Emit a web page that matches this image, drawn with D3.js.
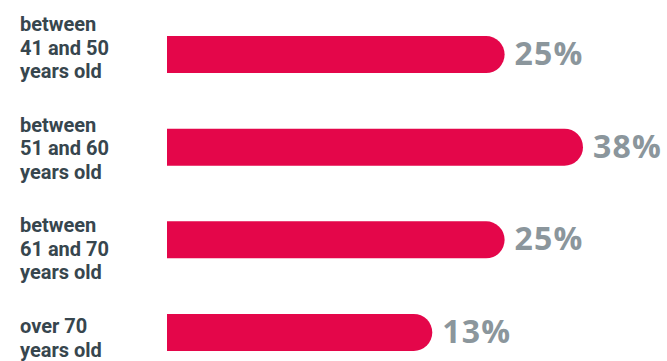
<!DOCTYPE html>
<html>
<head>
<meta charset="utf-8">
<script src="https://cdn.jsdelivr.net/npm/d3@7"></script>
<style>
  body { margin: 0; background: #fff; }
  svg { display: block; }
</style>
</head>
<body>
<svg width="667" height="361"></svg>
<script>
var labels = [
  ["between", "41 and 50", "years old"],
  ["between", "51 and 60", "years old"],
  ["between", "61 and 70", "years old"],
  ["over 70", "years old"]
];
var values = [25, 38, 25, 13];

var svg = d3.select("svg"),
    width = +svg.attr("width"),
    height = +svg.attr("height");

var idx = d3.range(values.length);

// bars start at 167, the scale is offset so short bars stay long-ish like the original
var x = d3.scaleLinear()
    .domain([-31, 38])
    .range([167, 583]);

var y = d3.scaleBand()
    .domain(idx)
    .range([36, 351])
    .paddingInner(0.6)
    .paddingOuter(0);

// labels sit on their own spacing, a bit off the bars
var ly = d3.scalePoint()
    .domain(idx)
    .range([31, 333]);

function barPath(i) {
  var x0 = x.range()[0], x1 = x(values[i]),
      y0 = y(i), h = y.bandwidth(), r = h / 2;
  return "M" + x0 + "," + y0 +
    "H" + (x1 - r) +
    "A" + r + "," + r + " 0 0 1 " + (x1 - r) + "," + (y0 + h) +
    "H" + x0 + "Z";
}

svg.append("g")
  .selectAll("path")
  .data(idx)
  .enter().append("path")
    .attr("d", barPath)
    .attr("fill", "#e4064a");

svg.append("g")
  .selectAll("text")
  .data(idx)
  .enter().append("text")
    .attr("x", function(i) { return x(values[i]) + 10; })
    .attr("y", function(i) { return y(i) + y.bandwidth() / 2; })
    .attr("dy", "0.33em")
    .attr("font-family", "'Open Sans', sans-serif")
    .attr("font-weight", 700)
    .attr("font-size", 32)
    .attr("letter-spacing", 1.2)
    .attr("fill", "#8b969c")
    .text(function(i) { return values[i] + "%"; });

var lab = svg.append("g")
  .selectAll("text")
  .data(idx)
  .enter().append("text")
    .attr("x", 20)
    .attr("y", function(i) { return ly(i); })
    .attr("font-family", "Roboto, sans-serif")
    .attr("font-weight", 700)
    .attr("font-size", 20)
    .attr("fill", "#37464e");

lab.selectAll("tspan")
  .data(function(i) { return labels[i]; })
  .enter().append("tspan")
    .attr("x", 20)
    .attr("dy", function(d, j) { return j ? 23.5 : 0; })
    .text(function(d) { return d; });
</script>
</body>
</html>
